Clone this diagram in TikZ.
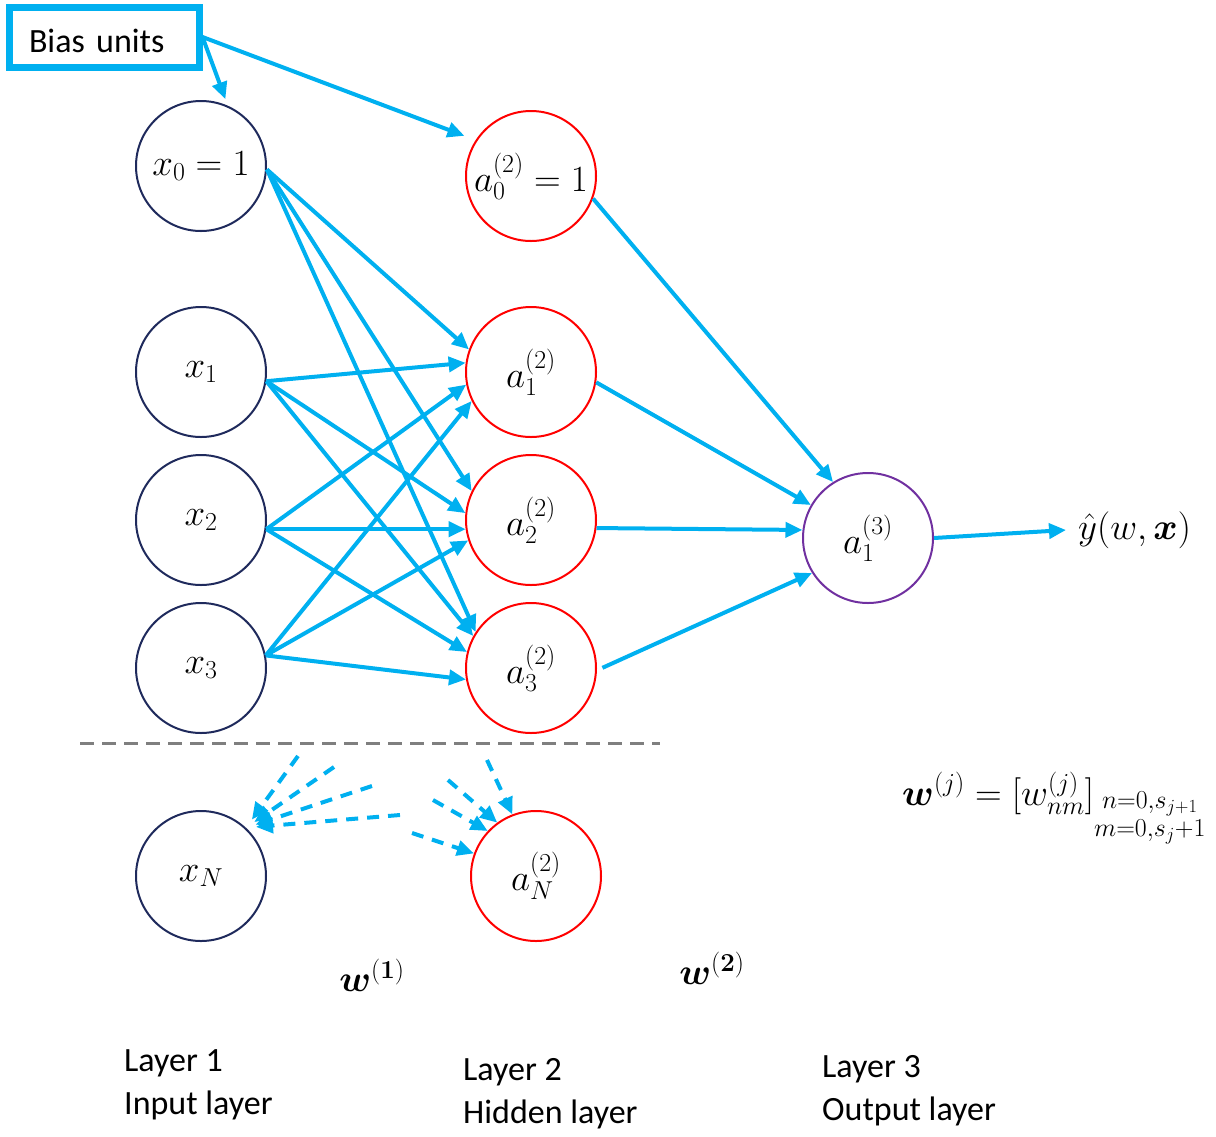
\RequirePackage{fix-cm}
\documentclass[tikz,border=0pt]{standalone}
\usepackage{amsmath,bm}
\usepackage[no-math]{fontspec}
\setmainfont{Carlito}
\usetikzlibrary{arrows.meta}

\definecolor{linkblue}{HTML}{00B0F0}
\definecolor{innavy}{HTML}{1F2A5C}
\definecolor{hidred}{HTML}{FF0000}
\definecolor{outpurple}{HTML}{7030A0}
\definecolor{sepgray}{HTML}{7F7F7F}

\newcommand\captxt{\fontsize{34}{43}\selectfont}
\newcommand\mathsz{\fontsize{37}{44}\selectfont}

\tikzset{
  unit/.style={circle, minimum size=130pt, inner sep=0pt, line width=2pt, font=\mathsz},
  inunit/.style={unit, draw=innavy},
  hidunit/.style={unit, draw=hidred},
  outunit/.style={unit, draw=outpurple},
  link/.style={draw=linkblue, line width=4pt, -{Triangle[length=17pt,width=15pt]}},
  dlink/.style={link, dash pattern=on 12pt off 9pt},
  caption/.style={font=\captxt, align=left, anchor=north west, inner sep=0pt},
  mathlabel/.style={font=\mathsz, inner sep=0pt},
}

\begin{document}
\begin{tikzpicture}[x=1pt, y=-1pt]
\useasboundingbox (0,0) rectangle (1216,1136);

% bias box
\node[draw=linkblue, line width=7pt, text width=150pt, align=left,
      inner xsep=20pt, inner ysep=0pt, text height=30pt, text depth=0pt,
      minimum height=60pt, font=\captxt]
      (bias) at (104,37) {Bias units};

% layer 1 (inputs)
\node[inunit] (x0) at (201,166) {$x_0 = 1$};
\node[inunit] (x1) at (201,372) {$x_1$};
\node[inunit] (x2) at (201,520) {$x_2$};
\node[inunit] (x3) at (201,668) {$x_3$};
\node[inunit] (xN) at (201,876) {$x_N$};

% layer 2 (hidden)
\node[hidunit] (a0) at (531,176) {$a_0^{(2)} = 1$};
\node[hidunit] (a1) at (531,372) {$a_1^{(2)}$};
\node[hidunit] (a2) at (531,520) {$a_2^{(2)}$};
\node[hidunit] (a3) at (531,668) {$a_3^{(2)}$};
\node[hidunit] (aN) at (536,876) {$a_N^{(2)}$};

% layer 3 (output)
\node[outunit] (y) at (868,538) {$a_1^{(3)}$};
\node[mathlabel, anchor=west, inner xsep=12pt] (yhat) at (1066,530) {$\hat{y}(w,\bm{x})$};

% bias connections
\draw[link, shorten >=7pt] (bias.east) -- (x0.66);
\draw[link, shorten >=12pt] (bias.east) -- (a0.147);

% layer 1 -> layer 2
\draw[link] (x0.-3) -- (a1.160);
\draw[link] (x0.-3) -- (a2.154);
\draw[link] (x0.-3) -- (a3.147);
\draw[link] (x1.-8) -- (a1.172);
\draw[link] (x1.-8) -- (a2.174);
\draw[link] (x1.-8) -- (a3.151);
\draw[link] (x2.-8) -- (a1.191);
\draw[link] (x2.-8) -- (a2.188);
\draw[link] (x2.-8) -- (a3.166);
\draw[link] (x3.11) -- (a1.206);
\draw[link] (x3.11) -- (a2.198);
\draw[link] (x3.11) -- (a3.190);

% layer 2 -> layer 3
\draw[link] (a0.-20) -- (y.122);
\draw[link] (a1.-9) -- (y.150);
\draw[link] (a2.-7) -- (y.173);
\draw[link, shorten <=6pt] (a3.-2) -- (y.212);
\draw[link] (y.east) -- (yhat.west);

% separator before the last units
\coordinate (sepL) at (80,743);
\coordinate (sepR) at (660,743);
\draw[sepgray, line width=3pt, dash pattern=on 14pt off 8pt] (sepL) -- (sepR);

% elided connections into the last units
\coordinate (p1) at (298,756);
\coordinate (p2) at (334,767);
\coordinate (p3) at (372,786);
\coordinate (p4) at (400,815);
\draw[dlink, shorten >=10pt] (p1) -- (xN.47);
\draw[dlink, shorten >=10pt] (p2) -- (xN.47);
\draw[dlink, shorten >=10pt] (p3) -- (xN.47);
\draw[dlink, shorten >=10pt] (p4) -- (xN.47);

\coordinate (q1) at (487,760);
\coordinate (q2) at (448,780);
\coordinate (q3) at (433,800);
\coordinate (q4) at (412,833);
\draw[dlink] (q1) -- (aN.111);
\draw[dlink] (q2) -- (aN.126);
\draw[dlink] (q3) -- (aN.137);
\draw[dlink] (q4) -- (aN.160);

% weight labels
\node[mathlabel] (w1) at (372,975) {$\bm{w}^{(\bm{1})}$};
\node[mathlabel] (w2) at (712,968) {$\bm{w}^{(\bm{2})}$};
\node[mathlabel, anchor=base west] (wj) at (902,805)
  {$\bm{w}^{(j)} = [w^{(j)}_{nm}]_{\substack{n=0,s_{j+1}\\ m=0,s_j+1}}$};

% layer captions
\node[caption] (L1) at (124,1049) {Layer 1\\Input layer};
\node[caption] (L2) at (463,1058) {Layer 2\\Hidden layer};
\node[caption] (L3) at (822,1055) {Layer 3\\Output layer};
\end{tikzpicture}
\end{document}
